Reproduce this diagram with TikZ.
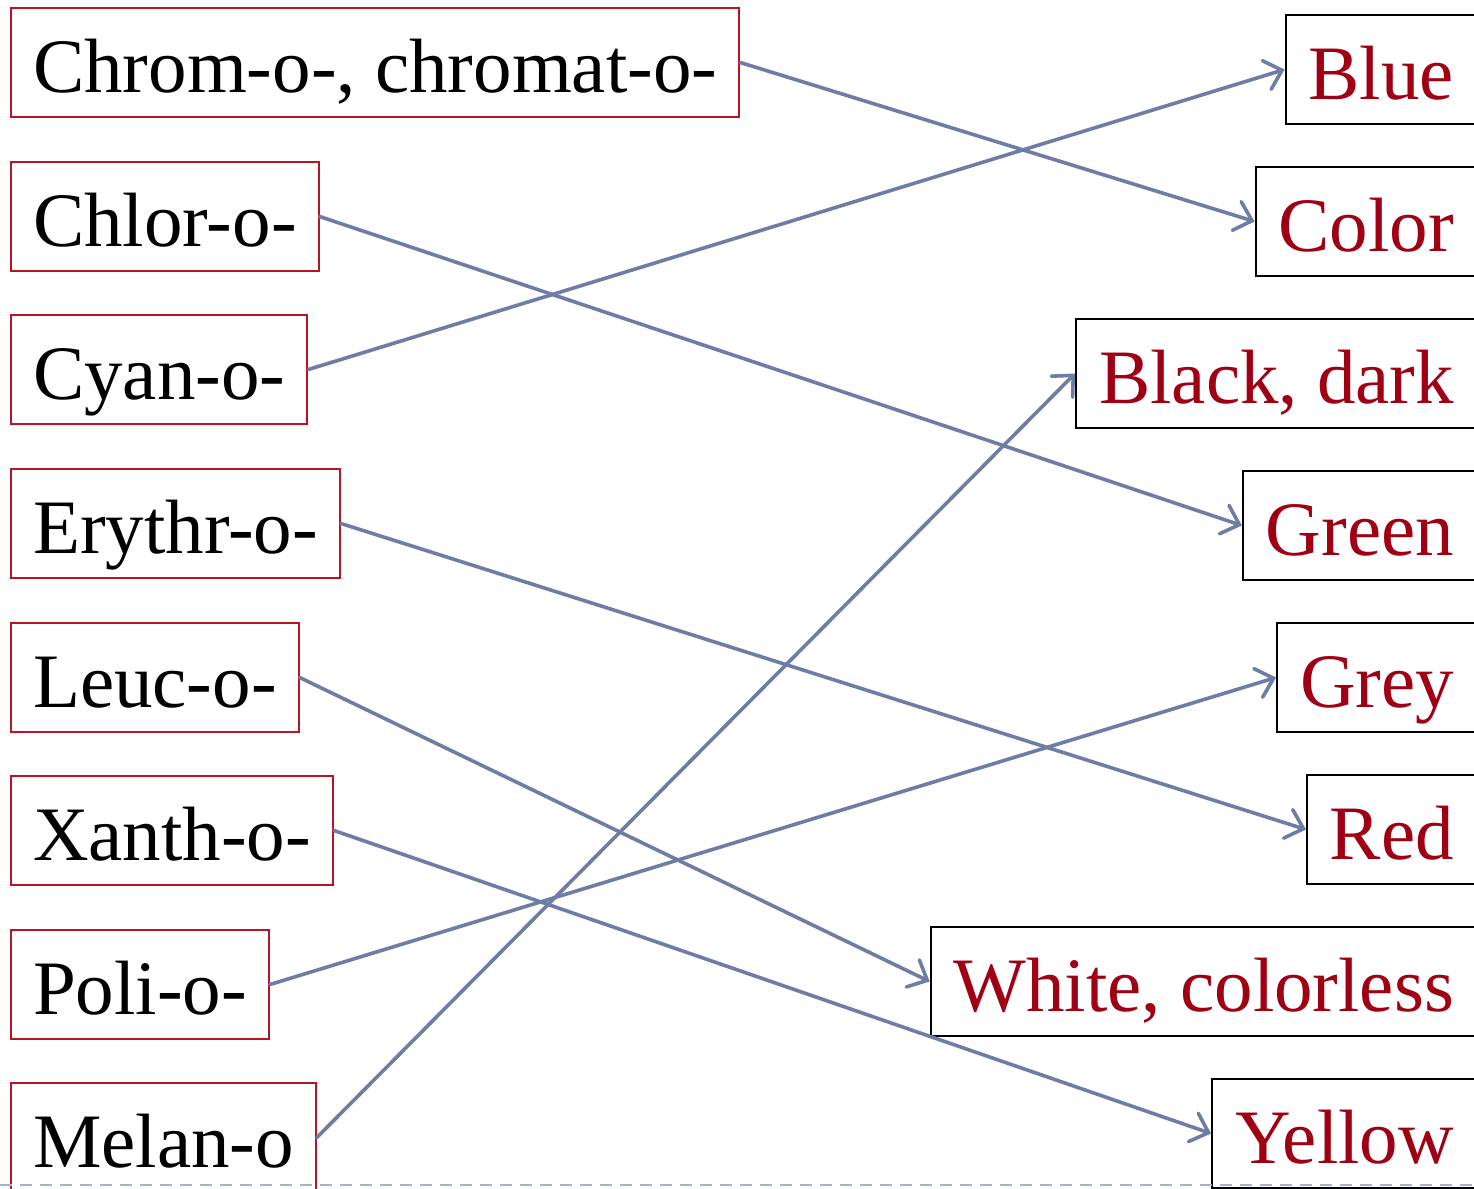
\documentclass[tikz,border=0pt]{standalone}
\usepackage{fontspec}
\setmainfont{Liberation Serif}
\usetikzlibrary{arrows.meta}
\definecolor{prered}{RGB}{185,20,35}
\definecolor{meanred}{RGB}{160,0,20}
\definecolor{linkblue}{RGB}{110,125,165}
\definecolor{dashblue}{RGB}{160,180,205}

\begin{document}
\begin{tikzpicture}[x=0.5pt, y=-0.5pt,
  stembox/.style={rectangle, draw=prered, line width=1pt, anchor=west, minimum height=54.5pt, inner xsep=11pt, inner ysep=0pt, text height=36.6pt, text depth=6.9pt},
  meanbox/.style={rectangle, draw=black, line width=1pt, anchor=east, text=meanred, minimum height=54.5pt, inner xsep=11.5pt, inner ysep=0pt, text height=36.6pt, text depth=6.9pt},
  link/.style={linkblue, line width=1.8pt, line cap=round, -{Straight Barb[length=8pt, width=15pt, line cap=round]}}]
  \fontsize{38.5}{46}\selectfont
    \useasboundingbox (0,0) rectangle (1474,1189);

    \node[stembox] (p1) at (10,62.5) {Chrom-o-, chromat-o-};
    \node[stembox] (p2) at (10,216.5) {Chlor-o-};
    \node[stembox] (p3) at (10,369.5) {Cyan-o-};
    \node[stembox] (p4) at (10,523.5) {Erythr-o-};
    \node[stembox] (p5) at (10,677.5) {Leuc-o-};
    \node[stembox] (p6) at (10,830.5) {Xanth-o-};
    \node[stembox] (p7) at (10,984.5) {Poli-o-};
    \node[stembox] (p8) at (10,1137.5) {Melan-o};

    \node[meanbox] (m1) at (1478,69.5) {Blue};
    \node[meanbox] (m2) at (1478,221.5) {Color};
    \node[meanbox] (m3) at (1478,373.5) {Black, dark};
    \node[meanbox] (m4) at (1478,525.5) {Green};
    \node[meanbox] (m5) at (1478,677.5) {Grey};
    \node[meanbox] (m6) at (1478,829.5) {Red};
    \node[meanbox] (m7) at (1478,981.5) {White, colorless};
    \node[meanbox] (m8) at (1478,1133.5) {Yellow};

    \draw[link] (p1.east) to (m2.west);
    \draw[link] (p2.east) to (m4.west);
    \draw[link] (p3.east) to (m1.west);
    \draw[link] (p4.east) to (m6.west);
    \draw[link] (p5.east) to (m7.west);
    \draw[link] (p6.east) to (m8.west);
    \draw[link] (p7.east) to (m5.west);
    \draw[link] (p8.east) to (m3.west);

    \draw[dashblue, line width=0.8pt, dash pattern=on 6pt off 4pt] (0,1185) -- (1474,1185);
\end{tikzpicture}
\end{document}
